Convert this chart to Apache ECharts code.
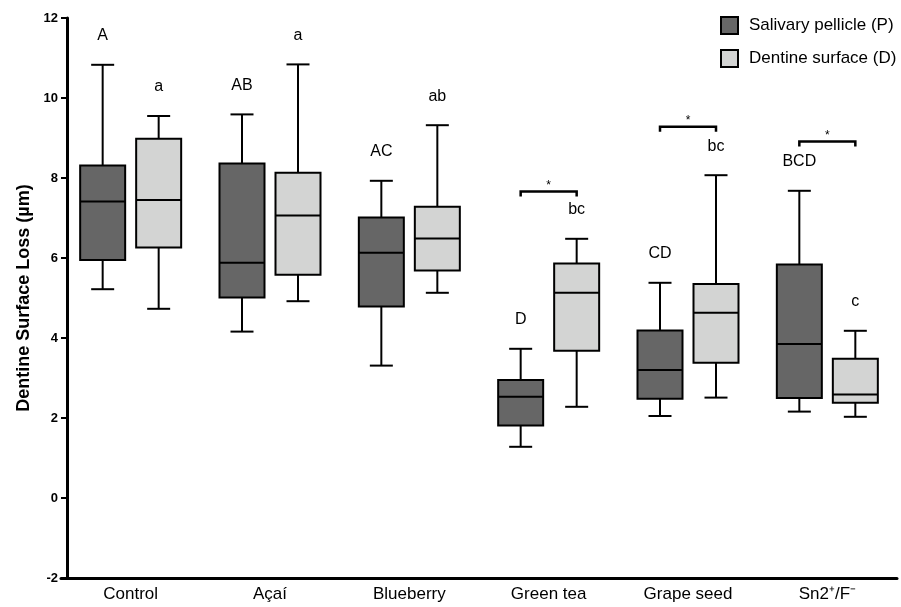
<!DOCTYPE html>
<html>
<head>
<meta charset="utf-8">
<script src="https://cdn.jsdelivr.net/npm/echarts@6/dist/echarts.min.js"></script>
<style>
    html, body { margin: 0; padding: 0; background: #fff; }
    #chart { width: 901px; height: 607px; }
</style>
</head>
<body>
<div id="chart"></div>
<script>
    // treatment groups on the x axis
    var categories = ['Control', 'Açaí', 'Blueberry', 'Green tea', 'Grape seed', 'Sn2⁺/F⁻']

    // box stats per group: [min, q1, median, q3, max]
    var pellicle = [
        [5.22, 5.95, 7.41, 8.31, 10.83],
        [4.16, 5.01, 5.88, 8.36, 9.59],
        [3.31, 4.79, 6.13, 7.01, 7.93],
        [1.28, 1.81, 2.53, 2.95, 3.73],
        [2.05, 2.48, 3.20, 4.19, 5.38],
        [2.16, 2.50, 3.85, 5.84, 7.68]
    ]
    var dentine = [
        [4.73, 6.26, 7.45, 8.98, 9.55],
        [4.92, 5.58, 7.06, 8.13, 10.84],
        [5.13, 5.69, 6.49, 7.28, 9.32],
        [2.28, 3.68, 5.13, 5.86, 6.48],
        [2.51, 3.38, 4.63, 5.35, 8.07],
        [2.03, 2.38, 2.59, 3.48, 4.18]
    ]

    // letters of the statistical groups
    var pellicleLetters = ['A', 'AB', 'AC', 'D', 'CD', 'BCD']
    var dentineLetters = ['a', 'a', 'ab', 'bc', 'bc', 'c']

    // P vs D brackets
    var sigGroups = [3, 4, 5]
    var sigLevels = [7.66, 9.28, 8.91]
    var sigMarks = ['*', '*', '*']

    var yTicks = [-2, 0, 2, 4, 6, 8, 10, 12]

    var FONT = '"Liberation Sans", Arial, Helvetica, sans-serif'
    var BOX_SHIFT = 28, BOX_W = 45, CAP_W = 23

    function boxRender(shift, fill, letters) {
        return function (params, api) {
            var i = api.value(0)
            var lo = api.coord([i, api.value(1)])
            var q1 = api.coord([i, api.value(2)])
            var md = api.coord([i, api.value(3)])
            var q3 = api.coord([i, api.value(4)])
            var hi = api.coord([i, api.value(5)])
            var x = lo[0] + shift
            var lineStyle = {stroke: '#000', lineWidth: 2}
            return {
                type: 'group',
                children: [
                    {type: 'line', shape: {x1: x, y1: lo[1], x2: x, y2: q1[1]}, style: lineStyle},
                    {type: 'line', shape: {x1: x, y1: q3[1], x2: x, y2: hi[1]}, style: lineStyle},
                    {type: 'line', shape: {x1: x - CAP_W / 2, y1: lo[1], x2: x + CAP_W / 2, y2: lo[1]}, style: lineStyle},
                    {type: 'line', shape: {x1: x - CAP_W / 2, y1: hi[1], x2: x + CAP_W / 2, y2: hi[1]}, style: lineStyle},
                    {
                        type: 'rect',
                        shape: {x: x - BOX_W / 2, y: q3[1], width: BOX_W, height: q1[1] - q3[1]},
                        style: {fill: fill, stroke: '#000', lineWidth: 2}
                    },
                    {type: 'line', shape: {x1: x - BOX_W / 2, y1: md[1], x2: x + BOX_W / 2, y2: md[1]}, style: lineStyle},
                    {
                        type: 'text',
                        style: {
                            text: letters[params.dataIndex], x: x, y: hi[1] - 29,
                            align: 'center', verticalAlign: 'middle',
                            fontSize: 16, fontFamily: FONT, fill: '#000'
                        }
                    }
                ]
            }
        }
    }

    function toRows(stats) {
        return stats.map(function (s, i) { return [i].concat(s) })
    }

    var chart = echarts.init(document.getElementById('chart'))
    chart.setOption({
        animation: false,
        grid: {left: 61, right: 4, top: 18, bottom: 29},
        legend: {
            orient: 'vertical',
            left: 715,
            top: 11,
            itemWidth: 17,
            itemHeight: 17,
            itemGap: 14,
            icon: 'rect',
            textStyle: {fontSize: 17, fontFamily: FONT, color: '#000', padding: [0, 0, 0, 6]},
            data: [
                {name: 'Salivary pellicle (P)', itemStyle: {color: '#666666', borderColor: '#000', borderWidth: 2}},
                {name: 'Dentine surface (D)', itemStyle: {color: '#d3d4d3', borderColor: '#000', borderWidth: 2}}
            ]
        },
        xAxis: {
            type: 'category',
            data: categories,
            axisLine: {onZero: false, lineStyle: {color: '#000', width: 3}},
            axisTick: {show: false},
            axisLabel: {fontSize: 17, fontFamily: FONT, color: '#000', margin: 8},
            splitLine: {show: false}
        },
        yAxis: {
            type: 'value',
            min: -2,
            max: 12,
            interval: 2,
            offset: -6,
            name: 'Dentine Surface Loss (µm)',
            nameLocation: 'middle',
            nameGap: 28,
            nameTextStyle: {fontSize: 18, fontWeight: 'bold', fontFamily: FONT, color: '#000'},
            axisLine: {show: true, lineStyle: {color: '#000', width: 3}},
            axisTick: {show: true, length: 6, lineStyle: {color: '#000', width: 2}},
            axisLabel: {
                fontSize: 13, fontWeight: 'bold', fontFamily: FONT, color: '#000', margin: 9,
                formatter: function (v) { return yTicks.indexOf(v) >= 0 ? String(v) : '' }
            },
            splitLine: {show: false}
        },
        series: [
            {
                name: 'Salivary pellicle (P)',
                type: 'custom',
                itemStyle: {color: '#666666'},
                renderItem: boxRender(-BOX_SHIFT, '#666666', pellicleLetters),
                encode: {x: 0, y: [1, 2, 3, 4, 5]},
                data: toRows(pellicle)
            },
            {
                name: 'Dentine surface (D)',
                type: 'custom',
                itemStyle: {color: '#d3d4d3'},
                renderItem: boxRender(BOX_SHIFT, '#d3d4d3', dentineLetters),
                encode: {x: 0, y: [1, 2, 3, 4, 5]},
                data: toRows(dentine)
            },
            {
                name: 'significance',
                type: 'custom',
                renderItem: function (params, api) {
                    var p = api.coord([api.value(0), api.value(1)])
                    var x1 = p[0] - BOX_SHIFT, x2 = p[0] + BOX_SHIFT, y = p[1]
                    return {
                        type: 'group',
                        children: [
                            {
                                type: 'polyline',
                                shape: {points: [[x1, y + 5], [x1, y], [x2, y], [x2, y + 5]]},
                                style: {stroke: '#000', lineWidth: 2.5, fill: null}
                            },
                            {
                                type: 'text',
                                style: {
                                    text: sigMarks[params.dataIndex], x: p[0], y: y - 6,
                                    align: 'center', verticalAlign: 'middle',
                                    fontSize: 12, fontFamily: FONT, fill: '#000'
                                }
                            }
                        ]
                    }
                },
                encode: {x: 0, y: 1},
                data: sigGroups.map(function (g, i) { return [g, sigLevels[i]] })
            }
        ]
    })
</script>
</body>
</html>
